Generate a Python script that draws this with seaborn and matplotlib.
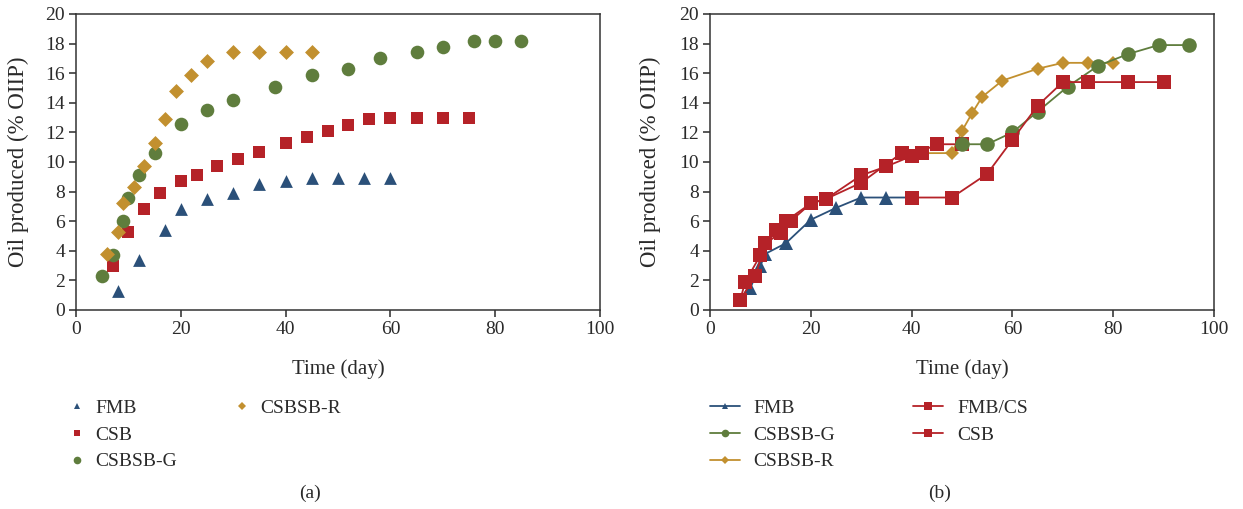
import matplotlib
matplotlib.use("Agg")
import matplotlib.pyplot as plt
from matplotlib.lines import Line2D
import seaborn as sns
import pandas as pd

# ---------------- data: panel (a) ----------------
a_fmb_x = [8, 12, 17, 20, 25, 30, 35, 40, 45, 50, 55, 60]
a_fmb_y = [1.3, 3.4, 5.4, 6.8, 7.5, 7.9, 8.5, 8.7, 8.9, 8.9, 8.9, 8.9]
a_csb_x = [7, 10, 13, 16, 20, 23, 27, 31, 35, 40, 44, 48, 52, 56, 60, 65, 70, 75]
a_csb_y = [3.0, 5.3, 6.8, 7.9, 8.7, 9.1, 9.7, 10.2, 10.7, 11.3, 11.7, 12.1, 12.5, 12.9, 13.0, 13.0, 13.0, 13.0]
a_g_x = [5, 7, 9, 10, 12, 15, 20, 25, 30, 38, 45, 52, 58, 65, 70, 76, 80, 85]
a_g_y = [2.3, 3.7, 6.0, 7.6, 9.1, 10.6, 12.6, 13.5, 14.2, 15.1, 15.9, 16.3, 17.0, 17.4, 17.8, 18.2, 18.2, 18.2]
a_r_x = [6, 8, 9, 11, 13, 15, 17, 19, 22, 25, 30, 35, 40, 45]
a_r_y = [3.8, 5.3, 7.2, 8.3, 9.7, 11.3, 12.9, 14.8, 15.9, 16.8, 17.4, 17.4, 17.4, 17.4]

# ---------------- data: panel (b) ----------------
b_fmb_x = [8, 10, 11, 15, 20, 25, 30, 35, 40]
b_fmb_y = [1.5, 3.0, 3.8, 4.5, 6.1, 6.9, 7.6, 7.6, 7.6]
b_csb_x = [6, 7, 10, 13, 15, 20, 23, 30, 35, 40, 45, 50]
b_csb_y = [0.7, 1.9, 3.7, 5.4, 6.0, 7.2, 7.5, 9.1, 9.7, 10.4, 11.2, 11.2]
b_csb2_x = [6, 9, 11, 14, 16, 20, 23, 30, 38, 42]
b_csb2_y = [0.7, 2.3, 4.5, 5.2, 6.0, 7.2, 7.5, 8.6, 10.6, 10.6]
b_g_x = [50, 55, 60, 65, 71, 77, 83, 89, 95]
b_g_y = [11.2, 11.2, 12.0, 13.4, 15.1, 16.5, 17.3, 17.9, 17.9]
b_r_x = [42, 48, 50, 52, 54, 58, 65, 70, 75, 80]
b_r_y = [10.6, 10.6, 12.1, 13.3, 14.4, 15.5, 16.3, 16.7, 16.7, 16.7]
b_fc_x = [40, 48, 55, 60, 65, 70, 75, 83, 90]
b_fc_y = [7.6, 7.6, 9.2, 11.5, 13.8, 15.4, 15.4, 15.4, 15.4]

x_ticks = [0, 20, 40, 60, 80, 100]
y_ticks = [0, 2, 4, 6, 8, 10, 12, 14, 16, 18, 20]

BLUE = "#2b5079"
RED = "#b52228"
GREEN = "#5f7d3d"
GOLD = "#c2902f"
TXT = "#2a2a2a"

sns.set_style("white")
plt.rcParams["font.family"] = ["Liberation Serif", "DejaVu Serif"]
FS = 14

fig = plt.figure(figsize=(12.43, 5.09), dpi=100)
W, H = 1243, 509
axa = fig.add_axes([76 / W, 1 - 310 / H, 524 / W, 296 / H])
axb = fig.add_axes([710 / W, 1 - 310 / H, 504 / W, 296 / H])

# ---- panel (a): scatter ----
def sc(ax, x, y, color, marker, ms):
    sns.scatterplot(x=x, y=y, ax=ax, color=color, marker=marker, s=ms ** 2,
                    linewidth=0, legend=False, zorder=3)

sc(axa, a_fmb_x, a_fmb_y, BLUE, "^", 9.2)
sc(axa, a_csb_x, a_csb_y, RED, "s", 9.3)
sc(axa, a_g_x, a_g_y, GREEN, "o", 9.8)
sc(axa, a_r_x, a_r_y, GOLD, "D", 7.6)

# ---- panel (b): lines with markers ----
def ln(ax, x, y, color, marker, ms, z):
    df = pd.DataFrame({"x": x, "y": y})
    sns.lineplot(data=df, x="x", y="y", ax=ax, color=color, marker=marker,
                 markersize=ms, markeredgewidth=0, linewidth=1.3,
                 estimator=None, sort=False, legend=False, zorder=z)

ln(axb, b_fmb_x, b_fmb_y, BLUE, "^", 9.5, 3)
ln(axb, b_r_x, b_r_y, GOLD, "D", 6.9, 4)
ln(axb, b_csb2_x, b_csb2_y, RED, "s", 10.0, 5)
ln(axb, b_csb_x, b_csb_y, RED, "s", 10.0, 5)
ln(axb, b_g_x, b_g_y, GREEN, "o", 10.5, 6)
ln(axb, b_fc_x, b_fc_y, RED, "s", 10.0, 7)

for ax in (axa, axb):
    ax.set_xlim(0, 100)
    ax.set_ylim(0, 20)
    ax.set_xticks(x_ticks)
    ax.set_yticks(y_ticks)
    ax.tick_params(axis="both", direction="out", length=5, width=1.1,
                   colors=TXT, labelsize=FS, pad=3, bottom=True, left=True)
    for s in ax.spines.values():
        s.set_visible(True)
        s.set_color("#333333")
        s.set_linewidth(1.1)
    ax.set_xlabel("Time (day)", fontsize=15, color=TXT)
    ax.set_ylabel("Oil produced (% OIIP)", fontsize=16.5, color=TXT)
    ax.xaxis.set_label_coords(0.5, -0.165)

axa.yaxis.set_label_coords(-0.09, 0.5)
axb.yaxis.set_label_coords(-0.097, 0.5)

blank = Line2D([], [], linestyle="none", marker=None)

# legend (a)
ha = [
    Line2D([], [], linestyle="none", marker="^", color=BLUE, markersize=5, markeredgewidth=0),
    Line2D([], [], linestyle="none", marker="s", color=RED, markersize=5, markeredgewidth=0),
    Line2D([], [], linestyle="none", marker="o", color=GREEN, markersize=5.5, markeredgewidth=0),
    Line2D([], [], linestyle="none", marker="D", color=GOLD, markersize=3.8, markeredgewidth=0),
    blank, blank,
]
la = ["FMB", "CSB", "CSBSB-G", "CSBSB-R", "", ""]
fig.legend(ha, la, loc="upper left", bbox_to_anchor=(69 / W, 1 - 399 / H),
           ncol=2, frameon=False, fontsize=FS, handlelength=0.8,
           handletextpad=0.55, columnspacing=2.95, labelspacing=0.48,
           borderaxespad=0, borderpad=0, labelcolor=TXT)

# legend (b)
hb = [
    Line2D([], [], color=BLUE, marker="^", markersize=5, markeredgewidth=0, linewidth=1.3),
    Line2D([], [], color=GREEN, marker="o", markersize=5.5, markeredgewidth=0, linewidth=1.3),
    Line2D([], [], color=GOLD, marker="D", markersize=3.8, markeredgewidth=0, linewidth=1.3),
    Line2D([], [], color=RED, marker="s", markersize=5.5, markeredgewidth=0, linewidth=1.3),
    Line2D([], [], color=RED, marker="s", markersize=5.5, markeredgewidth=0, linewidth=1.3),
    blank,
]
lb = ["FMB", "CSBSB-G", "CSBSB-R", "FMB/CS", "CSB", ""]
fig.legend(hb, lb, loc="upper left", bbox_to_anchor=(710 / W, 1 - 399 / H),
           ncol=2, frameon=False, fontsize=FS, handlelength=1.55,
           handletextpad=0.7, columnspacing=4.0, labelspacing=0.48,
           borderaxespad=0, borderpad=0, labelcolor=TXT)

fig.text(310 / W, 1 - 493 / H, "(a)", ha="center", va="center", fontsize=FS, color=TXT)
fig.text(940 / W, 1 - 493 / H, "(b)", ha="center", va="center", fontsize=FS, color=TXT)

fig.savefig("out.png", dpi=100, facecolor="white")
